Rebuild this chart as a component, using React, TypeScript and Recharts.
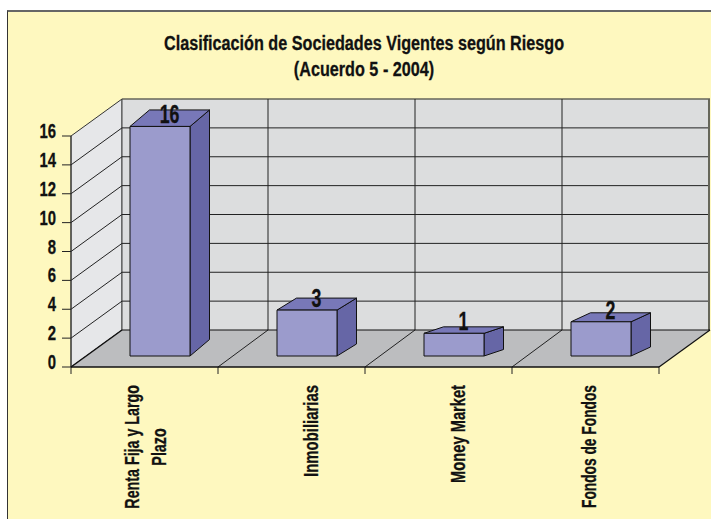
import React from 'react';
import { BarChart, Bar, XAxis, YAxis, LabelList, Customized } from 'recharts';

// Categories, with the line breaks used on the rotated axis labels
const categories = ['Renta Fija y Largo Plazo', 'Inmobiliarias', 'Money Market', 'Fondos de Fondos'];
const categoryLines = [['Renta Fija y Largo', 'Plazo'], ['Inmobiliarias'], ['Money Market'], ['Fondos de Fondos']];
// Printed value above each bar
const valueLabels = [16, 3, 1, 2];
// Bar height as read against the axis (the source drawing is not proportional to its labels)
const barHeights = [15.9, 3.18, 1.57, 2.37];
const yTicks = [0, 2, 4, 6, 8, 10, 12, 14, 16];
const titleLines = ['Clasificación de Sociedades Vigentes según Riesgo', '(Acuerdo 5 - 2004)'];

const data = categories.map((name, i) => ({ name, height: barHeights[i], label: valueLabels[i] }));

const FONT = '"Liberation Sans", sans-serif';
const INK = '#111';
const W = 711;
const H = 519;
// plot area (front plane of the fake 3D box)
const PLOT = { left: 71, top: 136, width: 588, height: 231 };
const DEPTH_X = 51;
const DEPTH_Y = 37;

// Each bar in the source has its own depth foreshortening
const BAR_RISE = [16.5, 12, 6.5, 9];
const BAR_RUN = 19.5;
const BAR_SHIFT_X = 15;
const BAR_SHIFT_Y = 11;

// No condensed font is installed, so squeeze the text horizontally
const Narrow = ({ x = 0, y = 0, rotate = 0, size, squeeze = 0.71, anchor = 'middle', children }: any) => (
  <text
    transform={`translate(${x},${y}) rotate(${rotate}) scale(${squeeze},1)`}
    textAnchor={anchor}
    fontFamily={FONT}
    fontWeight={700}
    fontSize={size}
    fill={INK}
    stroke={INK}
    strokeWidth={0.3}
  >
    {children}
  </text>
);

const Box3D = (props: any) => {
  const { x, y, width, height, index } = props;
  const rise = BAR_RISE[index];
  const x0 = x + BAR_SHIFT_X;
  const x1 = x0 + width;
  const top = y - BAR_SHIFT_Y;
  const bottom = y + height - BAR_SHIFT_Y;
  const stroke = { stroke: INK, strokeWidth: 1, strokeLinejoin: 'round' as const };
  return (
    <g>
      <path d={`M${x1},${top}L${x1 + BAR_RUN},${top - rise}L${x1 + BAR_RUN},${bottom - rise}L${x1},${bottom}Z`} fill="#6666a6" {...stroke} />
      <path d={`M${x0},${top}L${x0 + BAR_RUN},${top - rise}L${x1 + BAR_RUN},${top - rise}L${x1},${top}Z`} fill="#7878b8" {...stroke} />
      <rect x={x0} y={top} width={width} height={height} fill="#9b9bcc" {...stroke} />
    </g>
  );
};

const BarValue = (props: any) => {
  const { x, y, width, value } = props;
  return (
    <Narrow x={x + BAR_SHIFT_X + width / 2 + 9.5} y={y - BAR_SHIFT_Y - 3} size={25}>
      {value}
    </Narrow>
  );
};

// Side wall, back wall, floor and their grid lines
const Walls = () => {
  const { left, top, width, height } = PLOT;
  const right = left + width;
  const base = top + height;
  const bx = left + DEPTH_X;
  const unit = height / 16;
  const step = width / categories.length;
  return (
    <g>
      <path d={`M${left},${top}L${bx},${top - DEPTH_Y}L${bx},${base - DEPTH_Y}L${left},${base}Z`} fill="#e6e7e9" stroke="#333" />
      <rect x={bx} y={top - DEPTH_Y} width={width} height={height} fill="#dcddde" />
      <path d={`M${left},${base}L${bx},${base - DEPTH_Y}L${right + DEPTH_X},${base - DEPTH_Y}L${right},${base}Z`} fill="#bcbdbf" />
      <line x1={bx} y1={top - DEPTH_Y} x2={right + DEPTH_X} y2={top - DEPTH_Y} stroke="#66665a" strokeWidth={1.5} />
      <line x1={right + DEPTH_X - 1} y1={top - DEPTH_Y} x2={right + DEPTH_X - 1} y2={base - DEPTH_Y} stroke="#66665a" strokeWidth={2} />
      <line x1={bx} y1={top - DEPTH_Y} x2={bx} y2={base - DEPTH_Y} stroke="#444" />
      {yTicks.slice(1, -1).map((t) => {
        const yy = base - t * unit;
        return (
          <path key={t} d={`M${left},${yy}L${bx},${yy - DEPTH_Y}L${right + DEPTH_X - 2},${yy - DEPTH_Y}`} fill="none" stroke="#222" />
        );
      })}
      {categories.map((_, i) => {
        const xx = left + (i + 1) * step;
        return (
          <g key={i}>
            {i < categories.length - 1 && (
              <path d={`M${xx},${base}L${xx + DEPTH_X - 1},${base - DEPTH_Y}L${xx + DEPTH_X - 1},${top - DEPTH_Y}`} fill="none" stroke="#222" />
            )}
            <line x1={xx} y1={base} x2={xx} y2={base + 7} stroke="#222" />
          </g>
        );
      })}
      <line x1={left} y1={base} x2={left} y2={base + 7} stroke="#222" />
      <line x1={left} y1={top} x2={left} y2={base} stroke="#333" />
      <line x1={bx} y1={base - DEPTH_Y} x2={right + DEPTH_X} y2={base - DEPTH_Y} stroke={INK} strokeWidth={1.2} />
      <line x1={right} y1={base} x2={right + DEPTH_X} y2={base - DEPTH_Y} stroke={INK} strokeWidth={1.2} />
      <line x1={left} y1={base} x2={right} y2={base} stroke={INK} strokeWidth={1.5} />
      <line x1={left} y1={base} x2={bx} y2={base - DEPTH_Y} stroke={INK} strokeWidth={1.5} />
    </g>
  );
};

const Title = () => (
  <g>
    {titleLines.map((line, i) => (
      <Narrow key={i} x={364} y={50 + i * 25.5} size={20.5} squeeze={0.79}>
        {line}
      </Narrow>
    ))}
  </g>
);

const CATEGORY_LABEL_X = [139, 317.5, 465, 596];
const CATEGORY_SQUEEZE = [0.68, 0.71, 0.7, 0.655];
const LABEL_TOP = 385;

const CategoryTick = (props: any) => {
  const { index } = props;
  const lines = categoryLines[index];
  return (
    <g>
      {lines.map((line, i) => (
        <Narrow
          key={i}
          x={CATEGORY_LABEL_X[index] + i * 27}
          y={i === 0 ? LABEL_TOP : LABEL_TOP + 62}
          rotate={-90}
          size={21}
          squeeze={CATEGORY_SQUEEZE[index]}
          anchor={i === 0 ? 'end' : 'middle'}
        >
          {line}
        </Narrow>
      ))}
    </g>
  );
};

const ValueTick = (props: any) => {
  const { x, y, payload } = props;
  return (
    <Narrow x={x - 1} y={y + 2} size={21} anchor="end">
      {payload.value}
    </Narrow>
  );
};

export default function App() {
  return (
    <div style={{ position: 'absolute', left: 0, top: 0, width: W, height: H, background: '#fff', overflow: 'hidden' }}>
      <div style={{ position: 'absolute', left: 7, top: 10, width: 710, height: 520, background: '#fef8bf', border: '1px solid #333', borderTopColor: '#666', borderTopWidth: 2, boxSizing: 'border-box' }} />
      <div style={{ position: 'absolute', left: 0, top: 0 }}>
        <BarChart
          width={W}
          height={H}
          data={data}
          margin={{ left: 0, top: PLOT.top, right: W - PLOT.left - PLOT.width, bottom: 0 }}
        >
          <Customized component={Walls} />
          <Customized component={Title} />
          <XAxis dataKey="name" axisLine={false} tickLine={false} interval={0} tick={CategoryTick} height={H - PLOT.top - PLOT.height} />
          <YAxis
            domain={[0, 16]}
            ticks={yTicks}
            width={PLOT.left}
            axisLine={false}
            tickLine={{ stroke: '#222' }}
            tickSize={9}
            tickMargin={5}
            interval={0}
            tick={ValueTick}
          />
          <Bar dataKey="height" barSize={60} shape={Box3D} isAnimationActive={false}>
            <LabelList dataKey="label" content={BarValue} />
          </Bar>
        </BarChart>
      </div>
    </div>
  );
}
